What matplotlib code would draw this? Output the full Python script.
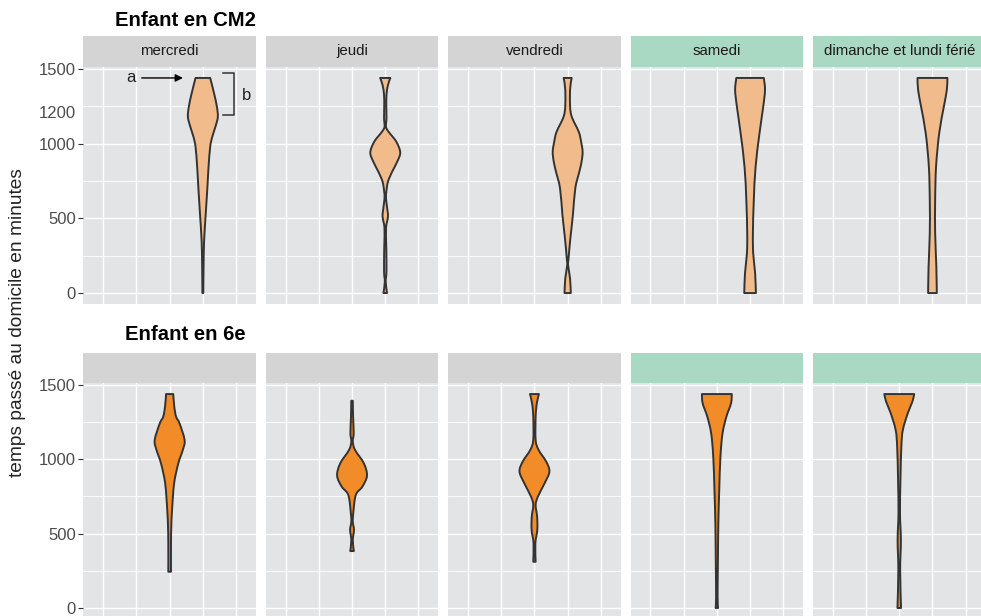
import matplotlib
matplotlib.use("Agg")
import matplotlib.pyplot as plt
import matplotlib.transforms as mtransforms
from matplotlib.path import Path
from matplotlib.patches import PathPatch
import numpy as np

plt.rcParams['font.family'] = ['Liberation Sans', 'DejaVu Sans']

###########
# Données #
###########

jours = ["mercredi", "jeudi", "vendredi", "samedi", "dimanche et lundi férié"]
jour_off = [False, False, False, True, True]
niveaux = ["Enfant en CM2", "Enfant en 6e"]
n_groupes = 5
position_groupe = {"Enfant en CM2": 4, "Enfant en 6e": 3}

duree_max = 1440   # 24 h
seuil_b = 1200

# profils des violons : minutes / densité relative (1 = largeur max)
cm2_mer_min = [1440, 1337, 1247, 1178, 1113, 1046, 979, 843, 736, 622, 511, 400, 268, 0]
cm2_mer_dens = [0.49, 0.75, 0.94, 1.0, 0.84, 0.63, 0.49, 0.38, 0.32, 0.25, 0.18, 0.11, 0.06, 0.03]

cm2_jeu_min = [1440, 1392, 1325, 1247, 1169, 1113, 1080, 1013, 941, 879, 812, 745, 678, 634, 567, 511, 433, 299, 143, 76, 0]
cm2_jeu_dens = [0.34, 0.18, 0.08, 0.07, 0.08, 0.05, 0.22, 0.74, 1.0, 0.80, 0.46, 0.18, 0.07, 0.05, 0.13, 0.18, 0.05, 0.07, 0.08, 0.03, 0.12]

cm2_ven_min = [1440, 1392, 1303, 1191, 1080, 1013, 946, 879, 812, 701, 522, 366, 232, 187, 98, 0]
cm2_ven_dens = [0.27, 0.19, 0.15, 0.24, 0.74, 0.90, 1.0, 0.93, 0.78, 0.51, 0.35, 0.18, 0.06, 0.03, 0.16, 0.21]

cm2_sam_min = [1440, 1359, 1247, 1069, 845, 622, 400, 266, 132, 0]
cm2_sam_dens = [0.92, 1.0, 0.88, 0.63, 0.37, 0.25, 0.19, 0.21, 0.34, 0.39]

cm2_dim_min = [1440, 1359, 1247, 1069, 845, 622, 400, 177, 0]
cm2_dim_dens = [1.0, 0.96, 0.76, 0.45, 0.24, 0.18, 0.18, 0.26, 0.29]

e6_mer_min = [1439, 1354, 1287, 1242, 1130, 1063, 973, 839, 659, 547, 435, 244]
e6_mer_dens = [0.24, 0.31, 0.43, 0.66, 1.0, 0.88, 0.58, 0.30, 0.16, 0.11, 0.09, 0.09]

e6_jeu_min = [1394, 1287, 1175, 1119, 1063, 973, 890, 816, 760, 637, 580, 525, 457, 383]
e6_jeu_dens = [0.05, 0.07, 0.11, 0.05, 0.20, 0.79, 1.0, 0.69, 0.25, 0.08, 0.05, 0.13, 0.05, 0.12]

e6_ven_min = [1439, 1377, 1287, 1130, 1063, 984, 917, 839, 749, 693, 614, 525, 435, 311]
e6_ven_dens = [0.30, 0.16, 0.08, 0.08, 0.28, 0.79, 1.0, 0.68, 0.23, 0.08, 0.18, 0.19, 0.06, 0.08]

e6_sam_min = [1439, 1377, 1287, 1175, 1017, 794, 570, 301, 76, 0]
e6_sam_dens = [1.0, 0.95, 0.64, 0.38, 0.24, 0.16, 0.10, 0.07, 0.05, 0.08]

e6_dim_min = [1439, 1388, 1310, 1197, 1085, 861, 637, 457, 256, 0]
e6_dim_dens = [1.0, 0.88, 0.57, 0.24, 0.14, 0.08, 0.05, 0.11, 0.06, 0.12]

violons = {
    "Enfant en CM2": [(cm2_mer_min, cm2_mer_dens), (cm2_jeu_min, cm2_jeu_dens),
                      (cm2_ven_min, cm2_ven_dens), (cm2_sam_min, cm2_sam_dens),
                      (cm2_dim_min, cm2_dim_dens)],
    "Enfant en 6e": [(e6_mer_min, e6_mer_dens), (e6_jeu_min, e6_jeu_dens),
                     (e6_ven_min, e6_ven_dens), (e6_sam_min, e6_sam_dens),
                     (e6_dim_min, e6_dim_dens)],
}

##########
# Styles #
##########

couleur_violon = {"Enfant en CM2": "#F1BB8C", "Enfant en 6e": "#F28C28"}
fond_panel = "#E3E4E5"
fond_strip = "#D4D4D4"
fond_strip_off = "#A9D8C3"
demi_largeur = 0.45

W, H = 981, 616
fig = plt.figure(figsize=(W / 100, H / 100), dpi=100)
fig.patch.set_facecolor("white")


def boite(x0, y0, x1, y1):
    # pixels (origine en haut à gauche) -> fraction de figure
    return [x0 / W, 1 - y1 / H, (x1 - x0) / W, (y1 - y0) / H]


def courbe(pts):
    # tracé lissé (Catmull-Rom -> Bézier cubique) passant par les points lus
    pts = np.asarray(pts, dtype=float)
    ext = np.vstack([pts[0], pts, pts[-1]])
    verts, codes = [], []
    for k in range(1, len(ext) - 2):
        p0, p1, p2, p3 = ext[k - 1], ext[k], ext[k + 1], ext[k + 2]
        verts += [p1 + (p2 - p0) / 6, p2 - (p3 - p1) / 6, p2]
        codes += [Path.CURVE4] * 3
    return verts, codes


def violon(ax, pos, mins, dens, couleur):
    mins = np.asarray(mins, dtype=float)
    hw = demi_largeur * np.asarray(dens)
    droite = np.column_stack([pos + hw, mins])[::-1]   # du bas vers le haut
    gauche = np.column_stack([pos - hw, mins])          # du haut vers le bas
    v1, c1 = courbe(droite)
    v2, c2 = courbe(gauche)
    verts = [droite[0]] + v1 + [gauche[0]] + v2 + [droite[0]]
    codes = [Path.MOVETO] + c1 + [Path.LINETO] + c2 + [Path.CLOSEPOLY]
    patch = PathPatch(Path(verts, codes), facecolor=couleur, edgecolor="#333333",
                      lw=1.4, zorder=3, joinstyle="round")
    ax.add_patch(patch)


gauche0, pas, larg = 83.3, 182.4, 172.7
lignes = {
    "Enfant en CM2": dict(strip=(35.5, 67.2), panel=(67.2, 303.8), titre=20),
    "Enfant en 6e": dict(strip=(352.5, 383.2), panel=(383.2, 618.7), titre=335),
}

for i_niv, niveau in enumerate(niveaux):
    lg = lignes[niveau]
    fig.text(185 / W, 1 - lg["titre"] / H, niveau, ha="center", va="center",
             fontsize=14.6, fontweight="bold", color="black")
    for j, jour in enumerate(jours):
        x0 = gauche0 + j * pas
        x1 = x0 + larg

        # bandeau (strip)
        sax = fig.add_axes(boite(x0, lg["strip"][0], x1, lg["strip"][1]))
        sax.set_facecolor(fond_strip_off if jour_off[j] else fond_strip)
        sax.set_xticks([])
        sax.set_yticks([])
        for s in sax.spines.values():
            s.set_visible(False)
        if i_niv == 0:
            sax.text(0.5, 0.5, jour, ha="center", va="center", fontsize=10.8,
                     color="#1A1A1A", transform=sax.transAxes)

        # panneau
        ax = fig.add_axes(boite(x0, lg["panel"][0], x1, lg["panel"][1]))
        ax.set_facecolor(fond_panel)
        ax.set_xlim(0.4, n_groupes + 0.6)
        ax.set_ylim(-0.05 * duree_max, duree_max * 1.05)
        ax.set_xticks(np.arange(1, n_groupes + 1))
        ax.set_yticks([0, 500, 1000, 1500])
        ax.set_yticks([250, 750, 1250], minor=True)
        ax.grid(which="major", color="white", lw=1.0)
        ax.grid(which="minor", axis="y", color="white", lw=0.6)
        ax.set_axisbelow(True)
        for s in ax.spines.values():
            s.set_visible(False)
        ax.tick_params(axis="x", which="both", length=0, labelbottom=False)
        ax.tick_params(axis="y", which="minor", length=0)
        if j == 0:
            ax.tick_params(axis="y", which="major", length=3.5, width=0.8,
                           color="#333333", labelsize=12, labelcolor="#4D4D4D", pad=2)
        else:
            ax.tick_params(axis="y", which="major", length=0, labelleft=False)

        # violon
        mins, dens = violons[niveau][j]
        pos = position_groupe[niveau]
        violon(ax, pos, mins, dens, couleur_violon[niveau])

        # annotations a / b (mercredi CM2)
        if i_niv == 0 and j == 0:
            trans = mtransforms.blended_transform_factory(ax.transAxes, ax.transData)
            ax.text(-0.042, seuil_b, "1200", transform=trans, ha="right", va="center",
                    fontsize=12, color="#4D4D4D")
            ax.annotate("", xy=(pos - 0.6, duree_max), xytext=(pos - 1.84, duree_max),
                        arrowprops=dict(arrowstyle="-|>", color="black", lw=1.0,
                                        mutation_scale=11, shrinkA=0, shrinkB=0))
            ax.text(pos - 2.16, duree_max, "a", ha="center", va="center",
                    fontsize=12, color="#222222")
            bx = pos + 0.95
            ax.plot([bx - 0.33, bx, bx, bx - 0.33],
                    [duree_max + 30, duree_max + 30, seuil_b - 10, seuil_b - 10],
                    color="#333333", lw=1.1, zorder=4)
            ax.text(bx + 0.37, (duree_max + seuil_b) / 2, "b", ha="center",
                    va="center", fontsize=12, color="#222222")

fig.text(18 / W, 1 - 323 / H, "temps passé au domicile en minutes", rotation=90,
         ha="center", va="center", fontsize=13.8, color="#222222")

fig.savefig("out.png", dpi=100)
